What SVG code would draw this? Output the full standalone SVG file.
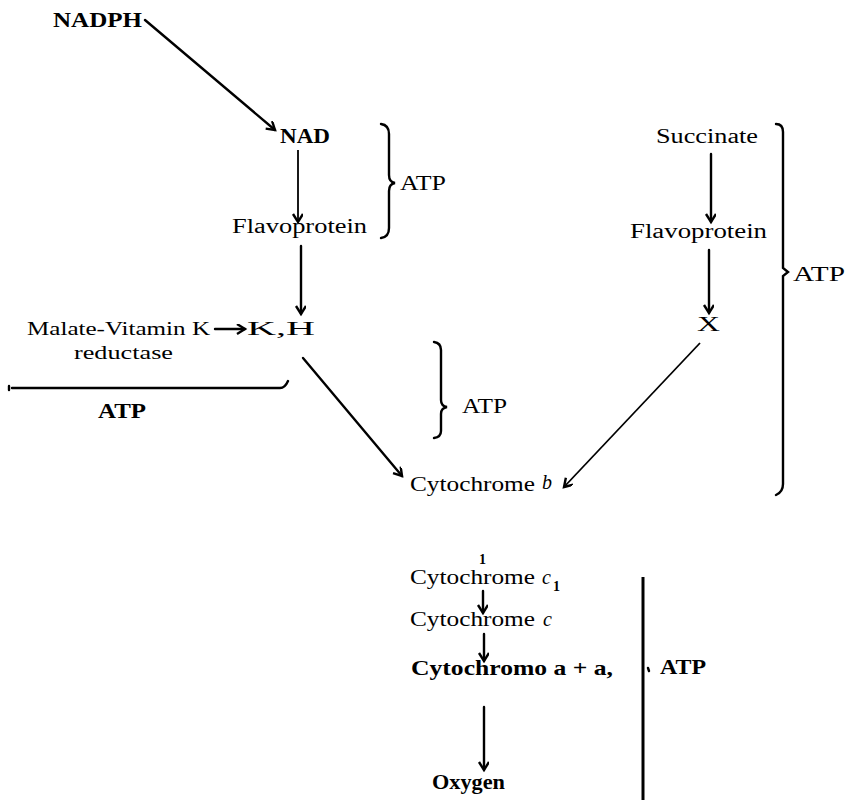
<svg xmlns="http://www.w3.org/2000/svg" width="850" height="800" viewBox="0 0 850 800">
<style>
text{font-family:"Liberation Serif","DejaVu Serif",serif;fill:#000;}
.b{font-weight:bold;}
.n{font-size:22px;}
.s{font-size:20px;}
.ln{stroke:#000;stroke-width:2.4;fill:none;stroke-linecap:round;}
.thin{stroke:#000;stroke-width:1.8;fill:none;}
</style>
<defs>
<marker id="ah" markerWidth="12" markerHeight="12" refX="9" refY="5" orient="auto" markerUnits="userSpaceOnUse">
<path d="M1,0 L9,5 L1,10" fill="none" stroke="#000" stroke-width="2.4"/>
</marker>
</defs>
<rect width="850" height="800" fill="#fff"/>

<g id="connectors">
<line class="ln" x1="145" y1="20" x2="275" y2="130" marker-end="url(#ah)"/>
<line class="thin" x1="298" y1="150" x2="298" y2="222" marker-end="url(#ah)"/>
<line class="ln" x1="301" y1="246" x2="301" y2="314" marker-end="url(#ah)"/>
<line class="ln" x1="215" y1="329" x2="245" y2="329" marker-end="url(#ah)"/>
<line class="ln" x1="303" y1="358" x2="402" y2="476" marker-end="url(#ah)"/>
<line class="ln" x1="711" y1="154" x2="711" y2="222" marker-end="url(#ah)"/>
<line class="ln" x1="709" y1="250" x2="709" y2="313" marker-end="url(#ah)"/>
<line class="thin" x1="700" y1="343" x2="564" y2="487" marker-end="url(#ah)"/>
<line class="ln" x1="483" y1="591" x2="483" y2="613" marker-end="url(#ah)"/>
<line class="ln" x1="484" y1="634" x2="484" y2="661" marker-end="url(#ah)"/>
<line class="ln" x1="484" y1="707" x2="484" y2="770" marker-end="url(#ah)"/>
</g>

<g id="brackets">
<path class="ln" d="M381,124 Q389,125 389,134 L389,175 Q389,182 395,183 Q389,184 389,191 L389,228 Q389,237 381,238"/>
<path class="ln" d="M434,342 Q441,343 441,350 L441,400 Q441,406 447,407 Q441,408 441,414 L441,431 Q441,437 434,438"/>
<path class="ln" d="M776,124 Q783,124 783,132 L783,268 L788,272 L783,276 L783,484 Q783,492 776,495"/>
<path class="ln" d="M12,388 L280,388 Q285,388 288,381"/>
<line class="ln" x1="9" y1="386" x2="9" y2="390"/>
<line x1="643" y1="577" x2="643" y2="800" stroke="#000" stroke-width="3"/>
<line class="ln" x1="648" y1="668" x2="649" y2="671"/>
</g>

<g id="NADPH"><text class="b n" x="53" y="27" textLength="89" lengthAdjust="spacingAndGlyphs">NADPH</text></g>
<g id="NAD"><text class="b n" x="280" y="143" textLength="50" lengthAdjust="spacingAndGlyphs">NAD</text></g>
<g id="Flavoprotein1"><text class="s" x="232" y="233" textLength="135" lengthAdjust="spacingAndGlyphs">Flavoprotein</text></g>
<g id="ATP1"><text class="s" x="400" y="190" textLength="46" lengthAdjust="spacingAndGlyphs">ATP</text></g>
<g id="Malate"><text x="27" y="335" font-size="19" textLength="183" lengthAdjust="spacingAndGlyphs">Malate-Vitamin K</text>
<text x="74" y="359" font-size="19" textLength="99" lengthAdjust="spacingAndGlyphs">reductase</text></g>
<g id="K2H"><text x="247" y="335" font-size="19" textLength="68" lengthAdjust="spacingAndGlyphs">K,H</text></g>
<g id="ATP2"><text class="b n" x="98" y="418" textLength="48" lengthAdjust="spacingAndGlyphs">ATP</text></g>
<g id="ATP3"><text class="s" x="462" y="413" textLength="45" lengthAdjust="spacingAndGlyphs">ATP</text></g>
<g id="Succinate"><text class="s" x="656" y="143" textLength="102" lengthAdjust="spacingAndGlyphs">Succinate</text></g>
<g id="Flavoprotein2"><text class="s" x="630" y="238" textLength="137" lengthAdjust="spacingAndGlyphs">Flavoprotein</text></g>
<g id="X"><text class="s" x="697" y="331" textLength="23" lengthAdjust="spacingAndGlyphs">X</text></g>
<g id="ATP4"><text class="s" x="793" y="281" textLength="52" lengthAdjust="spacingAndGlyphs">ATP</text></g>
<g id="Cytb"><text class="s" x="410" y="491" textLength="125" lengthAdjust="spacingAndGlyphs">Cytochrome</text><text class="s" x="542" y="489" font-style="italic">b</text></g>
<g id="one"><text class="b" font-size="14" x="479" y="564">1</text></g>
<g id="Cytc1"><text class="s" x="410" y="584" textLength="125" lengthAdjust="spacingAndGlyphs">Cytochrome</text><text class="s" x="542" y="584" font-style="italic">c</text><text class="b" font-size="14" x="553" y="591">1</text></g>
<g id="Cytc"><text class="s" x="410" y="626" textLength="125" lengthAdjust="spacingAndGlyphs">Cytochrome</text><text class="s" x="543" y="626" font-style="italic">c</text></g>
<g id="Cyta"><text class="b n" x="411" y="675" textLength="202" lengthAdjust="spacingAndGlyphs">Cytochromo a + a,</text></g>
<g id="ATP5"><text class="b s" x="660" y="674" textLength="46" lengthAdjust="spacingAndGlyphs">ATP</text></g>
<g id="Oxygen"><text class="b n" x="432" y="789" textLength="73" lengthAdjust="spacingAndGlyphs">Oxygen</text></g>
</svg>
